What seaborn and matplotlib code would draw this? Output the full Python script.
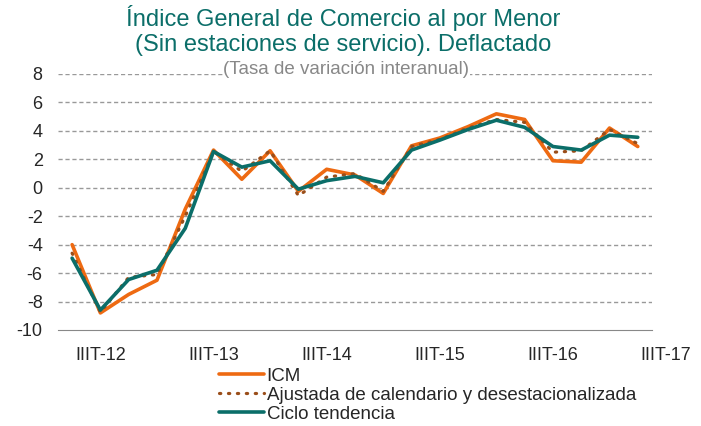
import numpy as np
import pandas as pd
import matplotlib.pyplot as plt
import seaborn as sns

# trimestres IIT-12 ... IIT-17
trimestres = ['IIT-12', 'IIIT-12', 'IVT-12', 'IT-13', 'IIT-13', 'IIIT-13', 'IVT-13',
              'IT-14', 'IIT-14', 'IIIT-14', 'IVT-14', 'IT-15', 'IIT-15', 'IIIT-15',
              'IVT-15', 'IT-16', 'IIT-16', 'IIIT-16', 'IVT-16', 'IT-17', 'IIT-17']
icm = [-4.0, -8.8, -7.5, -6.5, -1.5, 2.65, 0.6, 2.6, -0.25, 1.3, 0.9,
       -0.4, 2.95, 3.5, 4.3, 5.2, 4.8, 1.9, 1.8, 4.2, 2.9]
ajustada = [-4.6, -8.75, -6.3, -6.1, -2.0, 2.55, 1.15, 2.6, -0.55, 0.75, 1.0,
            -0.25, 2.9, 3.4, 4.2, 4.8, 4.6, 2.5, 2.6, 4.1, 3.1]
ciclo = [-4.95, -8.6, -6.45, -5.8, -2.85, 2.55, 1.45, 1.9, -0.1, 0.5, 0.8,
         0.35, 2.65, 3.35, 4.1, 4.75, 4.25, 2.9, 2.65, 3.7, 3.55]
etiquetas = ['IIIT-12', 'IIIT-13', 'IIIT-14', 'IIIT-15', 'IIIT-16', 'IIIT-17']

df = pd.DataFrame({'t': np.arange(len(trimestres)), 'ICM': icm,
                   'Ajustada de calendario y desestacionalizada': ajustada,
                   'Ciclo tendencia': ciclo})

sns.set_style('white')
plt.rcParams['font.family'] = ['Liberation Sans', 'DejaVu Sans']
plt.rcParams['axes.unicode_minus'] = False

fig = plt.figure(figsize=(7.01, 4.26), dpi=100)
ax = fig.add_axes([0.0827, 0.2254, 0.8473, 0.6009])

naranja = '#EE6A12'
marron = '#9A4E1A'
verde = '#0B6E69'

sns.lineplot(data=df, x='t', y='ICM', color=naranja, lw=2.6, ax=ax, label='ICM')
sns.lineplot(data=df, x='t', y='Ajustada de calendario y desestacionalizada', color=marron,
             lw=2.3, ls=(0, (0.4, 2.4)), dash_capstyle='round', ax=ax,
             label='Ajustada de calendario y desestacionalizada')
sns.lineplot(data=df, x='t', y='Ciclo tendencia', color=verde, lw=2.6, ax=ax,
             label='Ciclo tendencia')

ax.set_xlim(-0.5, 20.5)
ax.set_ylim(-10, 8)
ax.set_yticks(range(-10, 9, 2))
for v in range(-8, 9, 2):
    ax.axhline(v, color='#999999', lw=1, ls=(0, (3, 2)), zorder=0)
for s in ['left', 'right', 'top']:
    ax.spines[s].set_visible(False)
ax.spines['bottom'].set_color('#888888')
ax.tick_params(axis='y', length=0, labelsize=13, pad=11)
ax.set_xticks([])
ax.set_xlabel('')
ax.set_ylabel('')

# etiquetas cada cuatro trimestres (IIIT-17 sin dato)
for i, lab in enumerate(etiquetas):
    ax.text(1 + 4 * i, -0.065, lab, transform=ax.get_xaxis_transform(),
            ha='center', va='top', fontsize=13, clip_on=False)

fig.text(0.489, 0.957, 'Índice General de Comercio al por Menor', ha='center', va='center',
         fontsize=17, color=verde)
fig.text(0.489, 0.894, '(Sin estaciones de servicio). Deflactado', ha='center', va='center',
         fontsize=17, color=verde)
fig.text(0.494, 0.836, '(Tasa de variación interanual)', ha='center', va='center',
         fontsize=13.5, color='#888888',
         bbox=dict(facecolor='white', edgecolor='none', pad=0.5))

ax.legend_.remove()
handles, labels = ax.get_legend_handles_labels()
fig.legend(handles, labels, loc='upper left', bbox_to_anchor=(0.312, 0.137),
           frameon=False, fontsize=13.5, handlelength=2.4, handletextpad=0.15,
           labelspacing=0.1, borderaxespad=0, borderpad=0)

fig.savefig('out.png', dpi=100)
